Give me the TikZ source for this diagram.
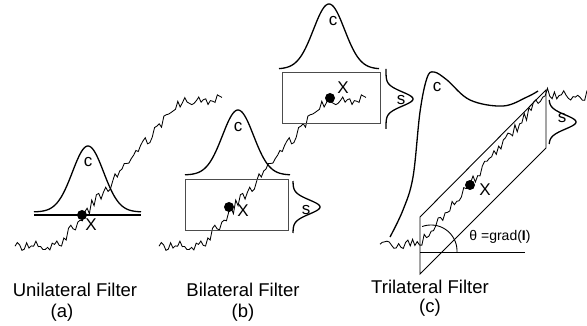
\documentclass[tikz,border=0pt]{standalone}
\usepackage{fontspec}
\setmainfont{Liberation Sans}
\begin{document}
\begin{tikzpicture}[x=1pt,y=-1pt, line join=miter,
  sig/.style={line width=0.85pt},
  curve/.style={line width=1.3pt},
  frame/.style={draw=black!70, line width=1pt},
  thin/.style={line width=0.9pt},
  lbl/.style={font=\fontsize{18.5}{20}\selectfont, inner sep=0pt},
  sym/.style={font=\fontsize{17}{18}\selectfont, inner sep=0pt},
  small/.style={font=\fontsize{14}{15}\selectfont, inner sep=0pt},
  dot/.style={circle, fill=black, minimum size=10pt, inner sep=0pt}]
\useasboundingbox (0,0) rectangle (587,326);

% ---------- panel (a)
\pgfmathsetseed{7}
\draw[sig] plot[domain=15:222, samples=90] (\x,{245-145*min(max((\x-58)/124,0),1)+5.5*rand});
\draw[curve] plot[domain=-54:53, samples=80] ({88+\x},{212-66*exp(-(\x/22)^2)});
\draw[line width=2.3pt] (34,215) -- (141,215);
\node[dot] (da) at (82,215) {};
\node[sym] (ca) at (88,162) {c};
\node[sym] (xa) at (91,225) {X};

% ---------- panel (b)
\begin{scope}[xshift=144pt]
\pgfmathsetseed{7}
\draw[sig] plot[domain=15:222, samples=90] (\x,{245-145*min(max((\x-58)/124,0),1)+5.5*rand});
\end{scope}
\draw[frame] (185,180) rectangle (288,231);
\draw[curve] plot[domain=-53:52, samples=80] ({238+\x},{175-65*exp(-(\x/22)^2)});
\draw[curve] plot[domain=-26:26, samples=60] ({293+27*exp(-(\x/10)^2)},{207+\x});
\node[dot] (db) at (229,207) {};
\node[sym] (cb) at (238,127) {c};
\node[sym] (xb) at (243,211) {X};
\node[sym] (sb) at (306,210) {s};

\draw[frame] (282,73) rectangle (380,124);
\draw[curve] plot[domain=-50:50, samples=80] ({329+\x},{69-65*exp(-(\x/22)^2)});
\draw[curve] plot[domain=-30:30, samples=60] ({386+27*exp(-(\x/10)^2)},{99+\x});
\node[dot] (db2) at (330,98) {};
\node[sym] (cb2) at (333,21) {c};
\node[sym] (xb2) at (343,88) {X};
\node[sym] (sb2) at (401,100) {s};

% ---------- panel (c)
\pgfmathsetseed{11}
\draw[sig] plot[domain=380:587, samples=90] (\x,{244-154*min(max((\x-420)/128,0),1)+6*max(min((\x-548)/6,1),0)+5.5*rand});
\draw[thin] (420,217) -- (546,90) -- (546,148) -- (420,274) -- cycle;
\draw[thin] (420,252) -- (525,252);
\draw[thin] plot[domain=-2:110, samples=40] ({431+26*cos(\x)},{251-26*sin(\x)});
\draw[curve] plot[smooth, tension=0.6] coordinates {(390,237) (403,210) (413,177) (420,112) (427,78) (434,72) (447,80) (470,100) (503,106) (527,97) (538,91)};
\draw[curve] plot[domain=-22:22, samples=60] ({549+27*exp(-(\x/10)^2)},{122+\x});
\node[dot] (dc) at (470,185) {};
\node[sym] (cc) at (437,87) {c};
\node[sym] (xc) at (485,190) {X};
\node[sym] (sc) at (562,118) {s};
\node[small] (th) at (500,237) {θ =grad(\textbf{I})};

% ---------- captions
\node[lbl] (ta) at (75,290) {Unilateral Filter};
\node[lbl] (pa) at (62,313) {(a)};
\node[lbl] (tb) at (243,290) {Bilateral Filter};
\node[lbl] (pb) at (243,313) {(b)};
\node[lbl] (tc) at (430,287) {Trilateral Filter};
\node[lbl] (pc) at (430,308) {(c)};
\end{tikzpicture}
\end{document}
